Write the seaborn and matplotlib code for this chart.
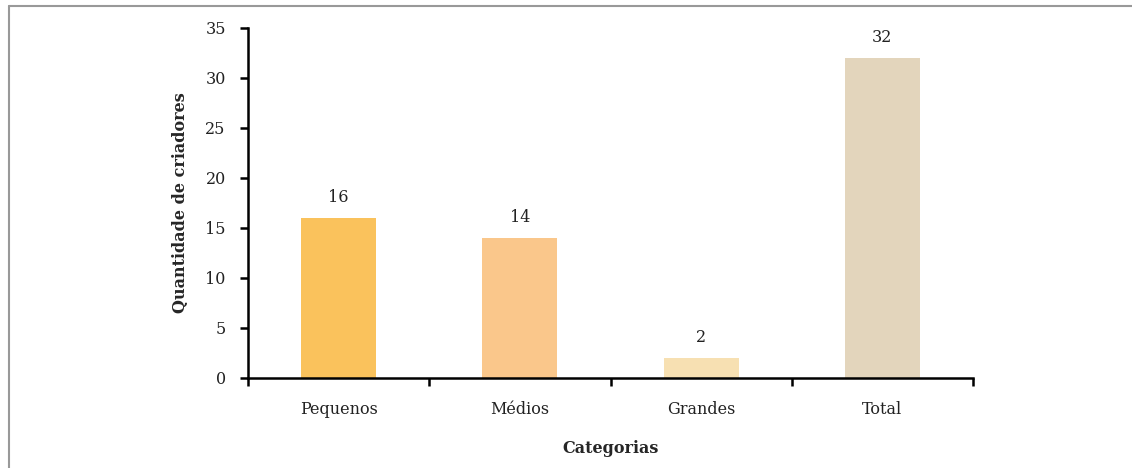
import pandas as pd
import matplotlib.pyplot as plt
import seaborn as sns
from matplotlib.lines import Line2D
from matplotlib.ticker import FixedLocator

# Data.
categorias = ['Pequenos', 'Médios', 'Grandes', 'Total']
quantidade = [16, 14, 2, 32]
cores = ['#FAC25C', '#FAC78B', '#F7E0B2', '#E3D5BC']

df = pd.DataFrame({'Categorias': categorias, 'Quantidade': quantidade})

sns.set_style('white')
plt.rcParams['font.family'] = ['DejaVu Serif']

fig = plt.figure(figsize=(11.32, 4.68), dpi=100)
ax = fig.add_axes([248 / 1132, 1 - 378 / 468, 725 / 1132, 350 / 468])

sns.barplot(data=df, x='Categorias', y='Quantidade', hue='Categorias',
            palette=cores, width=0.415, saturation=1, linewidth=0,
            legend=False, ax=ax)

for cont in ax.containers:
    ax.bar_label(cont, padding=9, fontsize=11.5, color='#222222')

ax.set_xlim(-0.5, len(categorias) - 0.5)
ax.set_ylim(0, 35)
ax.set_yticks(range(0, 36, 5))

ax.spines['top'].set_visible(False)
ax.spines['right'].set_visible(False)
for s in ['left', 'bottom']:
    ax.spines[s].set_linewidth(1.8)
    ax.spines[s].set_color('black')

# ticks on the x axis sit between the categories
ax.xaxis.set_minor_locator(FixedLocator([i - 0.5 for i in range(len(categorias) + 1)]))
ax.tick_params(axis='x', which='major', bottom=False, pad=13, labelsize=11.5,
               labelcolor='#222222')
ax.tick_params(axis='x', which='minor', bottom=True, length=6, width=1.8,
               direction='out', color='black')
ax.tick_params(axis='y', left=True, length=6, width=1.8, direction='out', pad=10,
               labelsize=11.5, color='black', labelcolor='#222222')

ax.set_xlabel('Categorias', fontsize=11.5, fontweight='bold', labelpad=16)
ax.set_ylabel('Quantidade de criadores', fontsize=11.5, fontweight='bold', labelpad=12)

# Gray frame lines at the top and left edge of the figure.
fig.add_artist(Line2D([8.5 / 1132, 8.5 / 1132], [0, 1 - 5.5 / 468],
                      transform=fig.transFigure, color='#999999', linewidth=1.5))
fig.add_artist(Line2D([8.5 / 1132, 1], [1 - 5.5 / 468, 1 - 5.5 / 468],
                      transform=fig.transFigure, color='#999999', linewidth=1.5))

fig.savefig('out.png', dpi=100)
